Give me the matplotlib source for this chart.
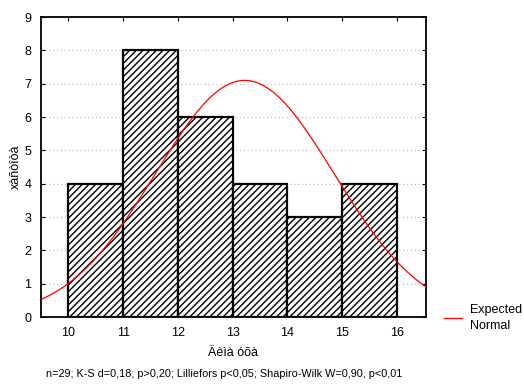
import numpy as np
import matplotlib
matplotlib.use('Agg')
import matplotlib.pyplot as plt

# histogram data
bin_edges = [10, 11, 12, 13, 14, 15, 16]
counts = [4, 8, 6, 4, 3, 4]
n_obs = 29
# fitted normal
mu = 13.22
sigma = 1.63

plt.rcParams['font.family'] = ['Liberation Sans', 'DejaVu Sans']
plt.rcParams['hatch.linewidth'] = 1.0

fig = plt.figure(figsize=(5.24, 3.89), dpi=100)
ax = fig.add_axes([41 / 524, 1 - 317 / 389, 385 / 524, 300 / 389])

ax.set_xlim(9.5, 16.53)
ax.set_ylim(0, 9)
ax.set_yticks(range(0, 10))
ax.set_xticks(bin_edges)
ax.yaxis.grid(True, linestyle=(0, (1, 2.5)), color='#b8b8b8', linewidth=0.8)
ax.set_axisbelow(True)

widths = np.diff(bin_edges)
ax.bar(bin_edges[:-1], counts, width=widths, align='edge',
       facecolor='white', edgecolor='black', linewidth=1.6, hatch='/////', zorder=2)

xs = np.linspace(9.5, 16.53, 300)
ys = n_obs * 1.0 / (sigma * np.sqrt(2 * np.pi)) * np.exp(-(xs - mu) ** 2 / (2 * sigma ** 2))
ax.plot(xs, ys, color='red', linewidth=0.9, zorder=3, label='Expected\nNormal')

for s in ax.spines.values():
    s.set_linewidth(1.3)
ax.tick_params(direction='in', length=3, labelsize=9, top=True, right=True,
               labeltop=False, labelright=False, pad=7)

ax.set_xlabel('Äèìà óõà', fontsize=9, labelpad=6)
ax.set_ylabel('xàñòîòà', fontsize=9, labelpad=2)

leg = fig.legend(loc='center left', bbox_to_anchor=(444 / 524, 1 - 318 / 389), frameon=False,
                 fontsize=9, handlelength=1.4, handletextpad=0.7, borderpad=0,
                 borderaxespad=0)
for t in leg.get_texts():
    t.set_linespacing(1.45)

fig.text(224 / 524, 1 - 374 / 389,
         'n=29; K-S d=0,18; p>0,20; Lilliefors p<0,05; Shapiro-Wilk W=0,90, p<0,01',
         ha='center', va='center', fontsize=7.8)

fig.savefig('out.png', dpi=100, facecolor='white')
